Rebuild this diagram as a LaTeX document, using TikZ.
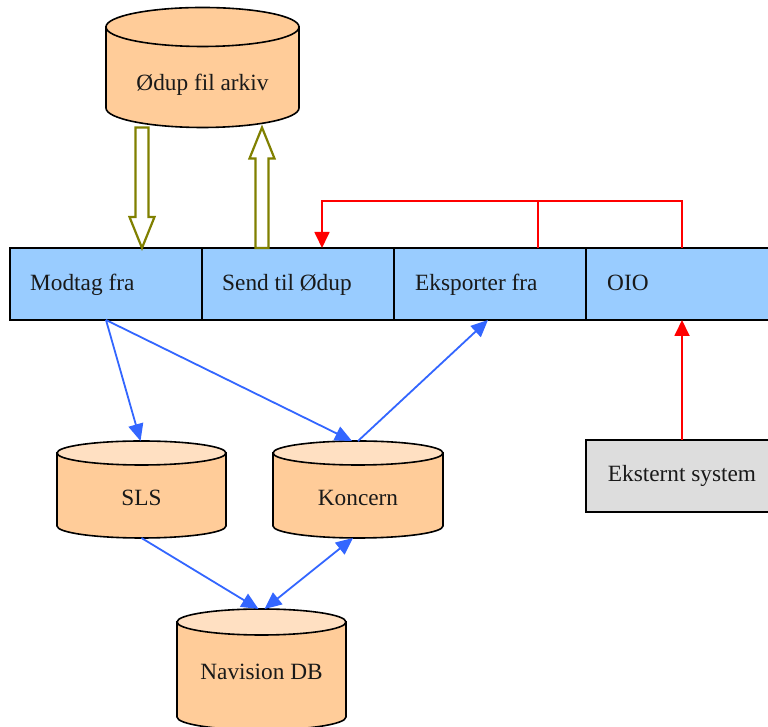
\documentclass[tikz,border=0pt]{standalone}
\usepackage{fontspec}
\setmainfont{Liberation Serif}
\usetikzlibrary{arrows.meta,calc}
\definecolor{boxblue}{HTML}{99CCFF}
\definecolor{cylbodyc}{HTML}{FFCC99}
\definecolor{cyltopc}{HTML}{FFE0C2}
\definecolor{extgray}{HTML}{DDDDDD}
\definecolor{olivec}{HTML}{808000}
\definecolor{bluec}{HTML}{3366FF}
\definecolor{redc}{HTML}{FF0000}
\newcommand{\dbshape}[6]{%
  \filldraw[cylbody] (#1-#2,#3) -- (#1-#2,#4) arc[start angle=180,end angle=360,x radius=#2,y radius=#5] -- (#1+#2,#3) -- cycle;
  \filldraw[cyltop,fill=#6] (#1,#3) ellipse[x radius=#2,y radius=#5];
}
\begin{document}
\begin{tikzpicture}[x=1pt,y=1pt,
  every node/.style={font=\fontsize{23.3}{28}\selectfont},
  seg/.style={draw=black,line width=1.6pt,fill=boxblue,minimum width=192pt,minimum height=72pt,inner sep=0pt,outer sep=0pt},
  extbox/.style={draw=black,line width=1.6pt,fill=extgray,minimum width=192pt,minimum height=72pt,inner sep=0pt,outer sep=0pt},
  area/.style={inner sep=0pt,outer sep=0pt,draw=none},
  lbl/.style={inner sep=0pt,text=black!90},
  cylbody/.style={draw=black,line width=1.6pt,fill=cylbodyc},
  cyltop/.style={draw=black,line width=1.6pt},
  hollow/.style={draw=olivec,line width=2.2pt,fill=white,line join=miter},
  redline/.style={draw=redc,line width=1.8pt},
  redarrow/.style={redline,-{Triangle[length=16pt,width=15pt]}},
  bluearrow/.style={draw=bluec,line width=1.8pt,-{Triangle[length=17pt,width=15pt]}},
  bluearrows/.style={draw=bluec,line width=1.8pt,{Triangle[length=17pt,width=15pt]}-{Triangle[length=17pt,width=15pt]}}
]
\useasboundingbox (0,0) rectangle (768,727);
\clip (0,0) rectangle (768,727);
\fill[white] (0,0) rectangle (768,727);

% cylinders
\dbshape{202.5}{96.5}{700}{619}{19.5}{cylbodyc}
\node[area,minimum width=193pt,minimum height=120pt] (arkiv) at (202.5,659.5) {};
\node[lbl,anchor=base] (arkivl) at (202.5,636) {Ødup fil arkiv};

\dbshape{141.5}{84.5}{274}{201}{12}{cyltopc}
\node[area,minimum width=169pt,minimum height=97pt] (sls) at (141.5,237.5) {};
\node[lbl,anchor=base] (slsl) at (141.5,221) {SLS};

\dbshape{358}{85}{274}{201}{12}{cyltopc}
\node[area,minimum width=170pt,minimum height=97pt] (konc) at (358,237.5) {};
\node[lbl,anchor=base] (koncl) at (358,221) {Koncern};

\dbshape{261.5}{84.5}{105}{10}{13}{cyltopc}
\node[area,minimum width=169pt,minimum height=121pt] (nav) at (261.5,57.5) {};
\node[lbl,anchor=base] (navl) at (261.5,47) {Navision DB};

% boxes
\node[seg] (modtag) at (106,443) {};
\node[seg] (send) at (298,443) {};
\node[seg] (eksp) at (490,443) {};
\node[seg] (oio) at (682,443) {};
\node[lbl,anchor=base west] (modtagl) at ($(modtag.west)+(20,-7)$) {Modtag fra};
\node[lbl,anchor=base west] (sendl) at ($(send.west)+(20,-7)$) {Send til Ødup};
\node[lbl,anchor=base west] (ekspl) at ($(eksp.west)+(21,-7)$) {Eksporter fra};
\node[lbl,anchor=base west] (oiol) at ($(oio.west)+(21,-7)$) {OIO};

\node[extbox] (ekst) at (682,251) {};
\node[lbl,anchor=base] (ekstl) at (682,245) {Eksternt system};

% hollow olive arrows
\draw[hollow] let \p1=([xshift=36pt]modtag.north), \p2=([xshift=-60pt]arkiv.south) in
  (\x1-6.5pt,\y2) -- (\x1-6.5pt,\y1+31pt) -- (\x1-12.5pt,\y1+31pt) -- (\x1,\y1)
  -- (\x1+12.5pt,\y1+31pt) -- (\x1+6.5pt,\y1+31pt) -- (\x1+6.5pt,\y2) -- cycle;
\draw[hollow] let \p1=([xshift=-36pt]send.north), \p2=([xshift=60pt]arkiv.south) in
  (\x1-6.5pt,\y1) -- (\x1-6.5pt,\y2-31pt) -- (\x1-12.5pt,\y2-31pt) -- (\x1,\y2)
  -- (\x1+12.5pt,\y2-31pt) -- (\x1+6.5pt,\y2-31pt) -- (\x1+6.5pt,\y1) -- cycle;

% red connectors
\draw[redarrow] ([xshift=48pt]eksp.north) |- ($(send.north)+(24,47)$) -- ([xshift=24pt]send.north);
\draw[redline] (oio.north) |- ($(eksp.north)+(48,47)$);
\draw[redarrow] (ekst.north) -- (oio.south);

% blue connectors
\draw[bluearrow] (modtag.south) -- ([xshift=-1pt]sls.north);
\draw[bluearrow] (modtag.south) -- ([xshift=-6pt]konc.north);
\draw[bluearrow] (konc.north) -- ([xshift=-2pt]eksp.south);
\draw[bluearrow] (sls.south) -- ([xshift=-3pt]nav.north);
\draw[bluearrows] ([xshift=3pt]nav.north) -- ([xshift=-5pt]konc.south);
\end{tikzpicture}
\end{document}
